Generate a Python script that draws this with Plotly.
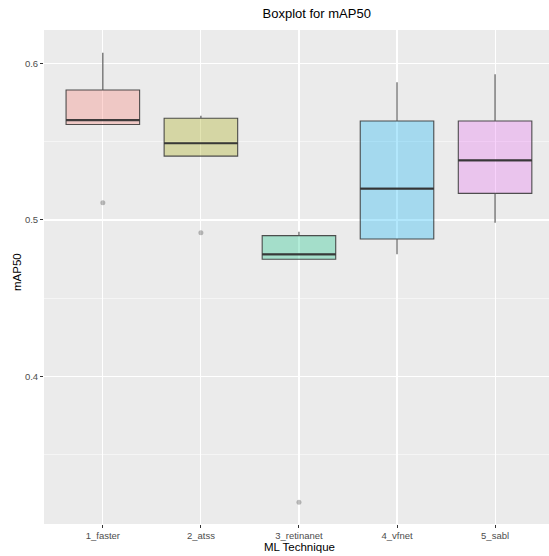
import plotly.graph_objects as go

categories = ["1_faster", "2_atss", "3_retinanet", "4_vfnet", "5_sabl"]
lower_whisker = [0.561, 0.5408, 0.4749, 0.4781, 0.4983]
q1 = [0.561, 0.5408, 0.4749, 0.4879, 0.517]
median = [0.5638, 0.549, 0.4781, 0.520, 0.5381]
q3 = [0.583, 0.565, 0.490, 0.5632, 0.5632]
upper_whisker = [0.6068, 0.5666, 0.4925, 0.5879, 0.593]
outlier_cat = ["1_faster", "2_atss", "3_retinanet"]
outlier_val = [0.511, 0.4919, 0.3198]

fills = ["rgba(248,118,109,0.3)", "rgba(163,165,0,0.3)", "rgba(0,191,125,0.3)",
         "rgba(0,176,246,0.3)", "rgba(231,107,243,0.3)"]

FONT = "Liberation Sans, Arial, sans-serif"
W, H = 549, 556
L, R, T, B = 44, 0, 30, 32
box_w = 0.75
fig = go.Figure()
for i, c in enumerate(categories):
    fig.add_trace(go.Box(
        x=[i], q1=[q1[i]], median=[median[i]], q3=[q3[i]],
        lowerfence=[lower_whisker[i]], upperfence=[upper_whisker[i]],
        width=box_w, fillcolor=fills[i], whiskerwidth=0,
        line=dict(color="rgba(51,51,51,0.85)", width=1.1),
        boxpoints=False, showlegend=False, hoverinfo="skip",
    ))
    fig.add_trace(go.Scatter(
        x=[i - box_w / 2, i + box_w / 2], y=[median[i], median[i]],
        mode="lines", line=dict(color="rgba(51,51,51,0.9)", width=2.2),
        showlegend=False, hoverinfo="skip",
    ))

fig.add_trace(go.Scatter(
    x=[categories.index(c) for c in outlier_cat], y=outlier_val, mode="markers",
    marker=dict(color="rgba(0,0,0,0.25)", size=5), showlegend=False,
))

fig.update_layout(
    width=W, height=H,
    margin=dict(l=L, r=R, t=T, b=B, pad=0, autoexpand=False),
    paper_bgcolor="white", plot_bgcolor="#EBEBEB",
    font=dict(family=FONT, color="black"),
    title=dict(text="Boxplot for mAP50", x=(L + W) / 2 / W, xanchor="center",
               xref="paper", y=1 - 13 / H, yanchor="middle",
               font=dict(size=13, color="black")),
    xaxis=dict(
        range=[-0.6, 4.55], tickmode="array", tickvals=list(range(len(categories))),
        ticktext=categories, showgrid=True, gridcolor="white", gridwidth=1.1,
        zeroline=False, ticks="outside", ticklen=3, tickcolor="#333333", tickwidth=1,
        tickfont=dict(size=9.5, color="#4D4D4D"), automargin=False,
    ),
    yaxis=dict(
        range=[0.3059, 0.6213], tickmode="array", tickvals=[0.4, 0.5, 0.6],
        ticktext=["0.4", "0.5", "0.6"], showgrid=True, gridcolor="white", gridwidth=1.1,
        zeroline=False, ticks="outside", ticklen=3, tickcolor="#333333", tickwidth=1,
        tickfont=dict(size=9.5, color="#4D4D4D"), automargin=False,
        minor=dict(tickvals=[0.35, 0.45, 0.55], showgrid=True, gridcolor="white",
                   gridwidth=0.5, ticks=""),
    ),
    annotations=[
        dict(text="ML Technique", xref="paper", yref="paper",
             x=(299 - L) / (W - L - R), y=-(547 - (H - B)) / (H - T - B),
             xanchor="center", yanchor="middle", showarrow=False,
             font=dict(size=11.5, color="black")),
        dict(text="mAP50", xref="paper", yref="paper", textangle=-90,
             x=-(L - 17) / (W - L - R), y=1 - (272 - T) / (H - T - B),
             xanchor="center", yanchor="middle", showarrow=False,
             font=dict(size=11.5, color="black")),
    ],
)

fig.write_html(
    "out.html",
    config={"displayModeBar": False, "staticPlot": True},
    post_script="document.body.style.margin='0';document.body.style.overflow='hidden';",
)
